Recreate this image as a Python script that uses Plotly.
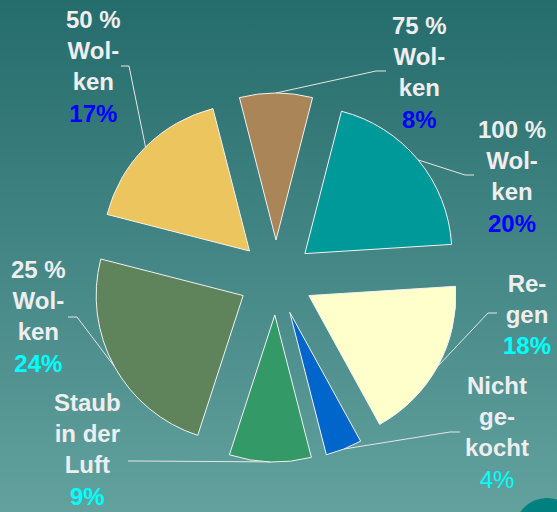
import math
import base64
import plotly.graph_objects as go

# ---------------- data ----------------
categories = ["75 % Wolken", "100 % Wolken", "Regen", "Nicht gekocht",
              "Staub in der Luft", "25 % Wolken", "50 % Wolken"]
label_text = ["75 %<br>Wol-<br>ken", "100 %<br>Wol-<br>ken", "Re-<br>gen",
              "Nicht<br>ge-<br>kocht", "Staub<br>in der<br>Luft",
              "25 %<br>Wol-<br>ken", "50 %<br>Wol-<br>ken"]
values = [8, 20, 18, 4, 9, 24, 17]

# ---------------- styles ----------------
slice_colors = ["#A98558", "#009999", "#FFFFCC", "#0066CC", "#339966", "#5F835A", "#ECC55F"]
pct_colors = ["#0000FF", "#0000FF", "#00FFFF", "#00FFFF", "#00FFFF", "#00FFFF", "#0000FF"]
pct_bold = [True, True, True, False, True, True, True]

W, H = 557, 512
CX, CY = 276.0, 277.5          # pie centre (px from top-left)
R = 147.0                       # pie radius (px)
PULL = 0.255
ROT = -14.4

# label block centres (px) and leader-line starting segments (px)
label_pos = [(419, 72), (512, 176), (527, 314), (497, 432), (87, 449), (38, 316), (93, 66)]
leader_start = [((386, 71), (376, 71)), ((474, 175), (465, 175)), ((497, 313), (488, 313)),
                ((460, 432), (450, 432)), ((128, 461), (138, 461)), ((68, 317), (77, 317)),
                ((121, 66), (129, 66))]


def px(x):
    return x / W


def py(y):
    return 1 - y / H


half = R * (1 + PULL)
domain_x = [px(CX - half), px(CX + half)]
domain_y = [py(CY + half), py(CY - half)]

fig = go.Figure()
fig.add_trace(go.Pie(
    labels=categories, values=values, sort=False, direction="clockwise",
    rotation=ROT, pull=[PULL] * len(values),
    marker=dict(colors=slice_colors, line=dict(color="#F2F2F2", width=1)),
    textinfo="none", hoverinfo="label+percent", showlegend=False,
    domain=dict(x=domain_x, y=domain_y),
))

# leader lines and labels
total = sum(values)
cum = 0
shapes = []
annotations = []
for i, v in enumerate(values):
    mid = math.radians(ROT + 360 * (cum + v / 2) / total)
    cum += v
    dist = R * (1 + PULL)
    ax_ = CX + dist * math.sin(mid)
    ay_ = CY - dist * math.cos(mid)
    (x0, y0), (x1, y1) = leader_start[i]
    path = f"M {px(x0)},{py(y0)} L {px(x1)},{py(y1)} L {px(ax_)},{py(ay_)}"
    shapes.append(dict(type="path", xref="paper", yref="paper", path=path,
                       line=dict(color="#E6E6E6", width=1), layer="above"))
    pct = f"{v}%"
    if pct_bold[i]:
        pct = f"<b>{pct}</b>"
    txt = f"<b>{label_text[i]}</b><br><span style='color:{pct_colors[i]}'>{pct}</span>"
    lx, ly = label_pos[i]
    annotations.append(dict(x=px(lx), y=py(ly), xref="paper", yref="paper", text=txt,
                            showarrow=False, xanchor="center", yanchor="middle", align="center",
                            font=dict(family="Liberation Sans, Arial, sans-serif", size=24,
                                      color="#EEEEEE")))

# decorative corner blob
shapes.append(dict(type="circle", xref="paper", yref="paper", layer="below",
                   x0=px(514), x1=px(580), y0=py(498), y1=py(566),
                   fillcolor="#00807E", line=dict(width=0)))

# background gradient
svg = ('<svg xmlns="http://www.w3.org/2000/svg" width="10" height="100" preserveAspectRatio="none">'
       '<defs><linearGradient id="g" x1="0" y1="0" x2="0" y2="1">'
       '<stop offset="0" stop-color="#256C6C"/><stop offset="1" stop-color="#62A19E"/>'
       '</linearGradient></defs><rect width="10" height="100" fill="url(#g)"/></svg>')
src = "data:image/svg+xml;base64," + base64.b64encode(svg.encode()).decode()

fig.update_layout(
    width=W, height=H, autosize=False,
    margin=dict(l=0, r=0, t=0, b=0),
    paper_bgcolor="#478786", plot_bgcolor="rgba(0,0,0,0)",
    shapes=shapes, annotations=annotations,
    images=[dict(source=src, xref="paper", yref="paper", x=0, y=1, sizex=1, sizey=1,
                 sizing="stretch", layer="below", xanchor="left", yanchor="top")],
)

fig.write_html("out.html", config={"displayModeBar": False},
               post_script="document.body.style.margin='0';document.body.style.overflow='hidden';")
